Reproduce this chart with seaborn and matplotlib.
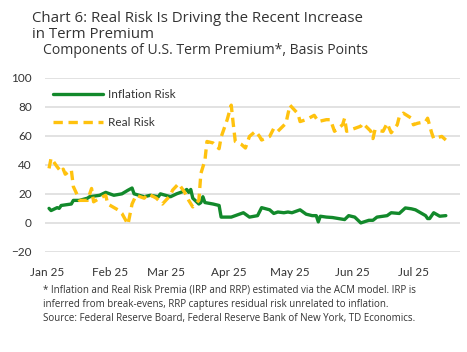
import numpy as np
import pandas as pd
import matplotlib
matplotlib.use("Agg")
import matplotlib.pyplot as plt
import matplotlib.dates as mdates
import seaborn as sns

# Inflation risk premium (bp)
infl_dates = ["2025-01-02", "2025-01-03", "2025-01-06", "2025-01-07", "2025-01-08", "2025-01-13",
              "2025-01-14", "2025-01-17", "2025-01-21", "2025-01-22", "2025-01-27", "2025-01-30",
              "2025-02-03", "2025-02-07", "2025-02-10", "2025-02-12", "2025-02-13", "2025-02-18",
              "2025-02-21", "2025-02-25", "2025-02-26", "2025-03-03", "2025-03-06", "2025-03-10",
              "2025-03-11", "2025-03-12", "2025-03-13", "2025-03-14", "2025-03-17", "2025-03-18",
              "2025-03-19", "2025-03-20", "2025-03-24", "2025-03-27", "2025-03-28", "2025-04-02",
              "2025-04-04", "2025-04-08", "2025-04-10", "2025-04-11", "2025-04-15", "2025-04-17",
              "2025-04-21", "2025-04-23", "2025-04-25", "2025-04-28", "2025-04-30", "2025-05-02",
              "2025-05-06", "2025-05-09", "2025-05-12", "2025-05-14", "2025-05-15", "2025-05-16",
              "2025-05-19", "2025-05-22", "2025-05-28", "2025-05-30", "2025-06-02", "2025-06-05",
              "2025-06-09", "2025-06-11", "2025-06-13", "2025-06-16", "2025-06-18", "2025-06-20",
              "2025-06-24", "2025-06-27", "2025-06-30", "2025-07-02", "2025-07-07", "2025-07-08",
              "2025-07-09", "2025-07-11", "2025-07-14", "2025-07-17"]
infl_vals = [10, 8.5, 10.5, 10, 12, 13,
             15.5, 15.5, 17, 18, 19, 21,
             19, 20, 22.5, 24, 20, 18,
             19, 18, 20, 18, 20, 22,
             23, 21, 23, 17, 13, 14,
             18, 14, 13, 12, 4, 4,
             5, 7, 5, 4, 5, 10.5,
             9, 6.5, 7.5, 7, 7.5, 7,
             9, 6, 5, 5, 0.7, 4.6,
             4, 3.7, 2.3, 5, 4, 0,
             1.8, 1.8, 4, 4.6, 5, 7,
             6.5, 10.3, 9.7, 9, 5, 3,
             3, 7, 4.6, 5]

# Real risk premium (bp)
real_dates = ["2025-01-02", "2025-01-03", "2025-01-06", "2025-01-08", "2025-01-09", "2025-01-10",
              "2025-01-13", "2025-01-14", "2025-01-16", "2025-01-17", "2025-01-21", "2025-01-23",
              "2025-01-24", "2025-01-27", "2025-01-30", "2025-01-31", "2025-02-05", "2025-02-07",
              "2025-02-10", "2025-02-12", "2025-02-14", "2025-02-18", "2025-02-20", "2025-02-24",
              "2025-02-27", "2025-03-03", "2025-03-04", "2025-03-07", "2025-03-10", "2025-03-12",
              "2025-03-14", "2025-03-17", "2025-03-18", "2025-03-20", "2025-03-21", "2025-03-24",
              "2025-03-27", "2025-03-28", "2025-03-31", "2025-04-02", "2025-04-03", "2025-04-04",
              "2025-04-07", "2025-04-09", "2025-04-11", "2025-04-14", "2025-04-16", "2025-04-17",
              "2025-04-21", "2025-04-23", "2025-04-25", "2025-04-29", "2025-05-01", "2025-05-05",
              "2025-05-06", "2025-05-09", "2025-05-13", "2025-05-15", "2025-05-19", "2025-05-21",
              "2025-05-23", "2025-05-27", "2025-05-28", "2025-05-29", "2025-06-02", "2025-06-05",
              "2025-06-06", "2025-06-10", "2025-06-11", "2025-06-12", "2025-06-16", "2025-06-18",
              "2025-06-20", "2025-06-23", "2025-06-24", "2025-06-26", "2025-06-30", "2025-07-01",
              "2025-07-03", "2025-07-07", "2025-07-08", "2025-07-10", "2025-07-11", "2025-07-15",
              "2025-07-17"]
real_vals = [37.5, 44.5, 38.6, 35, 37, 33.5,
             36.5, 25, 19, 15.5, 15.5, 23.7,
             14.5, 17, 19, 13, 9, 6.5,
             -1, 13, 19, 17, 20, 17,
             13, 19, 22.5, 27, 21, 15.5,
             11, 15.5, 34, 43, 56, 55,
             51, 59, 71, 81, 68, 56,
             54, 51.5, 59.5, 63, 59.5, 57,
             59.5, 65, 63, 68.5, 81, 75,
             69.7, 71, 74, 69.7, 71, 71,
             63, 67.5, 72, 63, 65, 66.5,
             68.5, 63, 58, 64, 63, 68.5,
             62, 67.5, 73, 75.5, 72, 67.5,
             68.5, 69.7, 72, 62, 58, 59.5,
             57]

series_names = ["Inflation Risk", "Real Risk"]
colors = ["#12892b", "#ffc20e"]
y_ticks = [-20, 0, 20, 40, 60, 80, 100]

title_lines = ["Chart 6: Real Risk Is Driving the Recent Increase", "in Term Premium"]
subtitle = "Components of U.S. Term Premium*, Basis Points"
notes = ["* Inflation and Real Risk Premia (IRP and RRP) estimated via the ACM model. IRP is",
         "inferred from break-evens, RRP captures residual risk unrelated to inflation.",
         "Source: Federal Reserve Board, Federal Reserve Bank of New York, TD Economics."]

df = pd.concat([
    pd.DataFrame({"date": pd.to_datetime(infl_dates), "value": infl_vals, "series": series_names[0]}),
    pd.DataFrame({"date": pd.to_datetime(real_dates), "value": real_vals, "series": series_names[1]}),
])

sns.set_theme(style="white")
plt.rcParams["font.family"] = ["Lato", "DejaVu Sans"]
txt = "#333333"
head_font = ["Open Sans", "DejaVu Sans"]

fig = plt.figure(figsize=(4.67, 3.52), dpi=100)
ax = fig.add_axes([45 / 467, 1 - 252 / 352, 415 / 467, 174.5 / 352])

sns.lineplot(data=df, x="date", y="value", hue="series", style="series",
             palette=dict(zip(series_names, colors)),
             dashes={series_names[0]: "", series_names[1]: (2.8, 1.7)},
             linewidth=2.4, ax=ax)

ax.set_ylim(-20, 100)
ax.set_yticks(y_ticks)
ax.set_xlim(pd.Timestamp("2024-12-31"), pd.Timestamp("2025-07-24"))
ax.xaxis.set_major_locator(mdates.MonthLocator())
ax.xaxis.set_major_formatter(mdates.DateFormatter("%b %y"))
ax.grid(axis="y", color="#dddddd", linewidth=1.2)
ax.grid(axis="x", visible=False)
for s in ax.spines.values():
    s.set_visible(False)
ax.tick_params(axis="both", length=0, labelsize=8.5, colors=txt)
ax.tick_params(axis="y", pad=9.5)
ax.tick_params(axis="x", pad=11)
ax.set_xlabel("")
ax.set_ylabel("")

leg = ax.legend(loc="upper left", bbox_to_anchor=(0.0, 0.98), frameon=False,
                fontsize=8.5, handlelength=4.2, labelspacing=1.4, handletextpad=0.4,
                borderaxespad=0.3)
for t in leg.get_texts():
    t.set_color(txt)

H = 352
for y, line in zip([21.7, 38.2], title_lines):
    fig.text(32 / 467, 1 - y / H, line, ha="left", va="baseline", fontsize=10.85,
             color=txt, family=head_font)
fig.text(43 / 467, 1 - 53.5 / H, subtitle, ha="left", va="baseline", fontsize=10.1,
         color=txt, family=head_font)
for y, line in zip([292.5, 307, 321.5], notes):
    fig.text(43 / 467, 1 - y / H, line, ha="left", va="baseline", fontsize=7.05,
             color=txt, family=head_font)

fig.savefig("out.png", dpi=100)
